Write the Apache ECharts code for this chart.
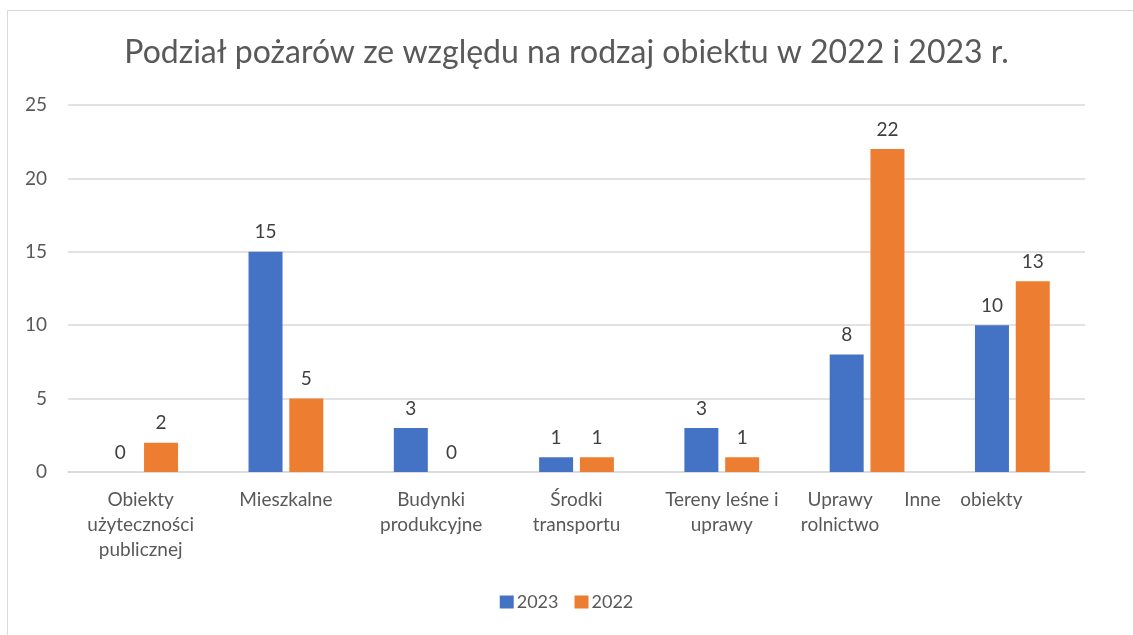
<!DOCTYPE html>
<html>
<head>
<meta charset="utf-8">
<script src="https://cdn.jsdelivr.net/npm/echarts@6/dist/echarts.min.js"></script>
<style>
  html, body { margin: 0; padding: 0; background: #fff; }
  #chart { width: 1133px; height: 635px; }
</style>
</head>
<body>
<div id="chart"></div>
<script>
// categories and values
const categories = [
  "Obiekty\nużyteczności\npublicznej",
  "Mieszkalne",
  "Budynki\nprodukcyjne",
  "Środki\ntransportu",
  "Tereny leśne i\nuprawy",
  "Uprawy\nrolnictwo",
  "Inne    obiekty",
];
const values2023 = [0, 15, 3, 1, 3, 8, 10];
const values2022 = [2, 5, 0, 1, 1, 22, 13];
const yTicks = [0, 5, 10, 15, 20, 25];

const textFont = "Lato, 'Open Sans', sans-serif";

const chart = echarts.init(document.getElementById("chart"));

// the last two labels sit left of their bars in the original
const labelShift = { 5: 54, 6: 98 };
const categoryData = categories.map((c, i) =>
  labelShift[i] ? { value: c, textStyle: { padding: [0, labelShift[i], 0, 0] } } : c
);

const labelStyle = {
  show: true,
  position: "top",
  distance: 10,
  color: "#404040",
  fontSize: 19,
  fontFamily: textFont,
};

const option = {
  backgroundColor: "#ffffff",
  animation: false,
  title: {
    text: "Podział pożarów ze względu na rodzaj obiektu w 2022 i 2023 r.",
    left: "center",
    top: 32,
    textStyle: {
      color: "#595959",
      fontSize: 32,
      fontWeight: "normal",
      fontFamily: textFont,
    },
  },
  legend: {
    bottom: 19,
    left: "center",
    itemWidth: 14,
    itemHeight: 13,
    itemGap: 16,
    icon: "rect",
    textStyle: { color: "#595959", fontSize: 18, fontFamily: textFont, padding: [0, 0, 0, -2] },
    data: ["2023", "2022"],
  },
  graphic: [
    {
      type: "rect",
      shape: { x: 7.5, y: 10.5, width: 1140, height: 640 },
      style: { fill: "none", stroke: "#d9d9d9", lineWidth: 1 },
      silent: true,
    },
  ],
  grid: { left: 68, right: 48, top: 105, bottom: 163 },
  xAxis: {
    type: "category",
    data: categoryData,
    axisLine: { lineStyle: { color: "#d9d9d9", width: 1.5 } },
    axisTick: { show: false },
    axisLabel: {
      interval: 0,
      color: "#595959",
      fontSize: 19,
      lineHeight: 25,
      margin: 15,
      fontFamily: textFont,
    },
  },
  yAxis: {
    type: "value",
    min: yTicks[0],
    max: yTicks[yTicks.length - 1],
    interval: yTicks[1] - yTicks[0],
    axisLine: { show: false },
    axisTick: { show: false },
    splitLine: { lineStyle: { color: "#d9d9d9", width: 1.5 } },
    axisLabel: {
      color: "#595959",
      fontSize: 19,
      margin: 21,
      fontFamily: textFont,
    },
  },
  series: [
    {
      name: "2023",
      type: "bar",
      data: values2023,
      barWidth: "23.4%",
      barGap: "20%",
      itemStyle: { color: "#4472c4" },
      label: labelStyle,
    },
    {
      name: "2022",
      type: "bar",
      data: values2022,
      barWidth: "23.4%",
      itemStyle: { color: "#ed7d31" },
      label: labelStyle,
    },
  ],
};

chart.setOption(option);
</script>
</body>
</html>
